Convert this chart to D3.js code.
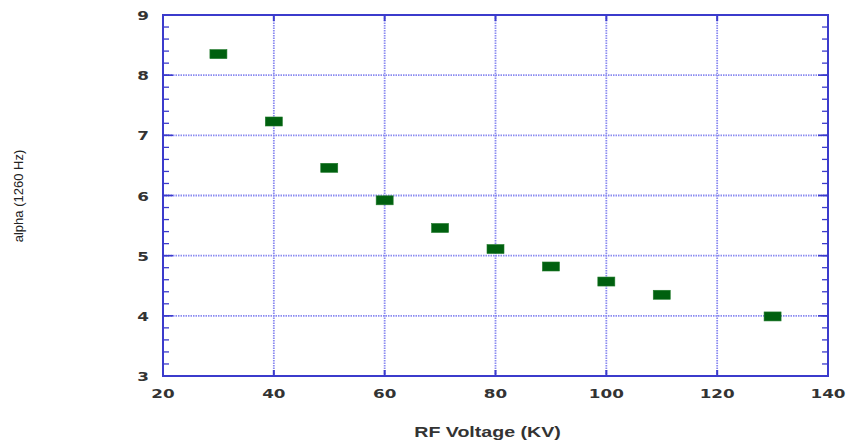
<!DOCTYPE html>
<html>
<head>
<meta charset="utf-8">
<script src="https://cdn.jsdelivr.net/npm/d3@7"></script>
<style>
  body { margin: 0; background: #fff; }
  svg { display: block; }
</style>
</head>
<body>
<div id="chart"></div>
<script>
var voltage = [30, 40, 50, 60, 70, 80, 90, 100, 110, 130]
var alpha = [8.35, 7.23, 6.46, 5.92, 5.46, 5.11, 4.82, 4.57, 4.35, 3.99]
var xTicks = [20, 40, 60, 80, 100, 120, 140]
var yTicks = [3, 4, 5, 6, 7, 8, 9]

var W = 849, H = 440
var margin = {left: 163, right: 21, top: 15, bottom: 64}
var width = W - margin.left - margin.right
var height = H - margin.top - margin.bottom

var svg = d3.select('#chart').append('svg').attr('width', W).attr('height', H)
var g = svg.append('g').attr('transform', 'translate(' + margin.left + ',' + margin.top + ')')

var x = d3.scaleLinear().domain([20, 140]).range([0, width])
var y = d3.scaleLinear().domain([3, 9]).range([height, 0])

var frame = '#3b3bcc', grid = '#8a8af0'

// grid (dotted, light blue)
g.selectAll('line.gx').data(xTicks.slice(1, -1)).enter().append('line')
  .attr('x1', d => x(d)).attr('x2', d => x(d)).attr('y1', 0).attr('y2', height)
  .attr('stroke', grid).attr('stroke-width', 1.8).attr('stroke-dasharray', '1.5,1')
g.selectAll('line.gy').data(yTicks.slice(1, -1)).enter().append('line')
  .attr('y1', d => y(d)).attr('y2', d => y(d)).attr('x1', 0).attr('x2', width)
  .attr('stroke', grid).attr('stroke-width', 1.8).attr('stroke-dasharray', '1.5,1')

// minor y ticks (every 0.2) on both sides
var minor = d3.range(3, 9.001, 0.2)
g.selectAll('line.ml').data(minor).enter().append('line')
  .attr('x1', 0).attr('x2', 6).attr('y1', d => y(d)).attr('y2', d => y(d))
  .attr('stroke', frame).attr('stroke-width', 1.3)
g.selectAll('line.mr').data(minor).enter().append('line')
  .attr('x1', width).attr('x2', width - 6).attr('y1', d => y(d)).attr('y2', d => y(d))
  .attr('stroke', frame).attr('stroke-width', 1.3)

// major x ticks top and bottom
g.selectAll('line.xb').data(xTicks).enter().append('line')
  .attr('x1', d => x(d)).attr('x2', d => x(d)).attr('y1', height).attr('y2', height - 6)
  .attr('stroke', frame).attr('stroke-width', 2)
g.selectAll('line.xt').data(xTicks).enter().append('line')
  .attr('x1', d => x(d)).attr('x2', d => x(d)).attr('y1', 0).attr('y2', 6)
  .attr('stroke', frame).attr('stroke-width', 2)
// major y ticks, longer
g.selectAll('line.yl').data(yTicks).enter().append('line')
  .attr('x1', 0).attr('x2', 10).attr('y1', d => y(d)).attr('y2', d => y(d))
  .attr('stroke', frame).attr('stroke-width', 1.6)
g.selectAll('line.yr').data(yTicks).enter().append('line')
  .attr('x1', width).attr('x2', width - 10).attr('y1', d => y(d)).attr('y2', d => y(d))
  .attr('stroke', frame).attr('stroke-width', 1.6)

// frame
g.append('rect').attr('width', width).attr('height', height)
  .attr('fill', 'none').attr('stroke', frame).attr('stroke-width', 2)

// tick labels
g.selectAll('text.xl').data(xTicks).enter().append('text')
  .attr('transform', d => 'translate(' + x(d) + ',' + (height + 22) + ') scale(1.4,1)')
  .attr('text-anchor', 'middle')
  .attr('font-family', 'DejaVu Sans').attr('font-weight', 'bold').attr('font-size', 12)
  .attr('fill', '#333').text(d => d)
g.selectAll('text.yl').data(yTicks).enter().append('text')
  .attr('transform', d => 'translate(-14,' + (y(d) + 5) + ') scale(1.4,1)')
  .attr('text-anchor', 'end')
  .attr('font-family', 'DejaVu Sans').attr('font-weight', 'bold').attr('font-size', 12)
  .attr('fill', '#333').text(d => d)

// axis titles
svg.append('text')
  .attr('transform', 'translate(' + (margin.left + width / 2 - 8) + ',437) scale(1.4,1)')
  .attr('text-anchor', 'middle')
  .attr('font-family', 'Liberation Sans').attr('font-weight', 'bold').attr('font-size', 14)
  .attr('fill', '#333').text('RF Voltage (KV)')
svg.append('text')
  .attr('transform', 'translate(23,196) rotate(-90)')
  .attr('text-anchor', 'middle')
  .attr('font-family', 'Liberation Sans Narrow, Liberation Sans').attr('font-size', 13)
  .attr('fill', '#222').text('alpha (1260 Hz)')

// markers
var data = voltage.map((v, i) => ({v: v, a: alpha[i]}))
g.selectAll('rect.pt').data(data).enter().append('rect')
  .attr('x', d => x(d.v) - 8.5).attr('y', d => y(d.a) - 4.5)
  .attr('width', 17).attr('height', 9)
  .attr('fill', '#00600f').attr('stroke', '#1f7a2a').attr('stroke-width', 0.6)
</script>
</body>
</html>
